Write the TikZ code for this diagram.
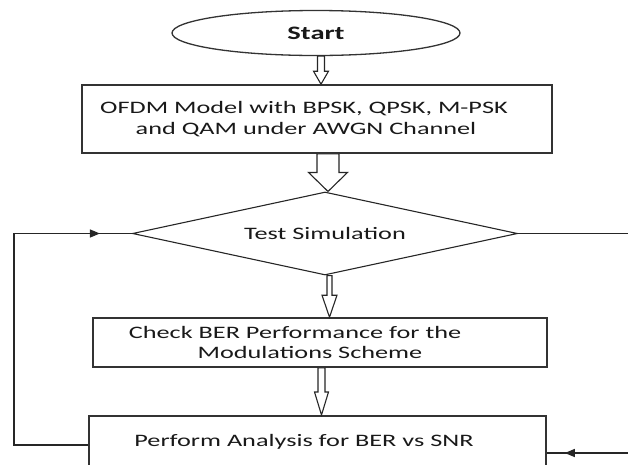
\documentclass[tikz,border=0pt]{standalone}
\usepackage{fontspec}
\setmainfont{Carlito}[FakeStretch=1.5]
\usepackage{tikz}
\usetikzlibrary{shapes.geometric,calc,arrows.meta,decorations.markings}
\def\flowfont{\fontsize{17.5}{20.5}\selectfont}
\newcommand{\blockarrow}[5]{%
  \draw[blockline] let \p1=(#1), \p2=(#2) in
    (\x1-#3,\y1) -- (\x1-#3,\y2+#5) -- (\x1-#4,\y2+#5) -- (\x1,\y2)
    -- (\x1+#4,\y2+#5) -- (\x1+#3,\y2+#5) -- (\x1+#3,\y1) -- cycle;}

\begin{document}
\begin{tikzpicture}[x=1pt,y=-1pt]
    \tikzstyle{every node}=[font=\flowfont,text=black!90]
    \tikzstyle{procbox}=[rectangle,draw=black!80,line width=1.6pt,inner sep=0pt,align=center]
    \tikzstyle{blockline}=[draw=black!85,line width=1.1pt,fill=white,line join=miter]
    \tikzstyle{loopline}=[draw=black!85,line width=1.2pt]
    \tikzstyle{midarrow}=[postaction={decorate},
      decoration={markings,mark=at position #1 with {\arrow{Triangle[length=10pt,width=8pt]}}}]
    \path[use as bounding box] (0,0) rectangle (628,464);
    % boxes
    \node[ellipse,draw=black!80,line width=1.3pt,minimum width=288pt,minimum height=45pt,inner sep=0pt]
      (start) at (316,33) {\fontsize{19}{21}\selectfont\bfseries Start};
    \node[procbox,minimum width=470pt,minimum height=68pt] (ofdm) at (317,119)
      {OFDM Model with BPSK, QPSK, M-PSK\hspace*{26pt}\\and QAM under AWGN Channel\hspace*{22pt}};
    \node[diamond,draw=black!85,line width=1.1pt,aspect=4.6,minimum width=385pt,minimum height=83pt,inner sep=0pt]
      (sim) at (325,233.5) {Test Simulation};
    \node[procbox,minimum width=454pt,minimum height=49pt] (check) at (320,342.5)
      {Check BER Performance for the\hspace*{50pt}\\Modulations Scheme\hspace*{20pt}};
    \node[procbox,anchor=north,minimum width=457pt,text height=13pt,text depth=45pt,inner ysep=18pt]
      (perf) at (317.5,415) {Perform Analysis for BER vs SNR\hspace*{27pt}};
    % block arrows
    \blockarrow{[xshift=5pt]start.south}{ofdm.north}{3.5pt}{7.5pt}{13pt}
    \blockarrow{[xshift=11pt]ofdm.south}{sim.north}{11pt}{19.5pt}{19pt}
    \blockarrow{[xshift=4.5pt]sim.south}{check.north}{2.5pt}{7.5pt}{22pt}
    \blockarrow{[xshift=1.5pt]check.south}{perf.north}{3.5pt}{7pt}{23pt}
    % loops
    \coordinate (loopcorner) at (14,445);
    \coordinate (rightout) at (628,233.5);
    \coordinate (rightin) at (628,453);
    \draw[loopline,midarrow=-32pt] ($(perf.north west)+(0,30)$) -- (loopcorner) |- (sim.west);
    \draw[loopline] (sim.east) -- (rightout);
    \draw[loopline,midarrow=-18pt] (rightin) -- (perf.east |- rightin);
\end{tikzpicture}
\end{document}
